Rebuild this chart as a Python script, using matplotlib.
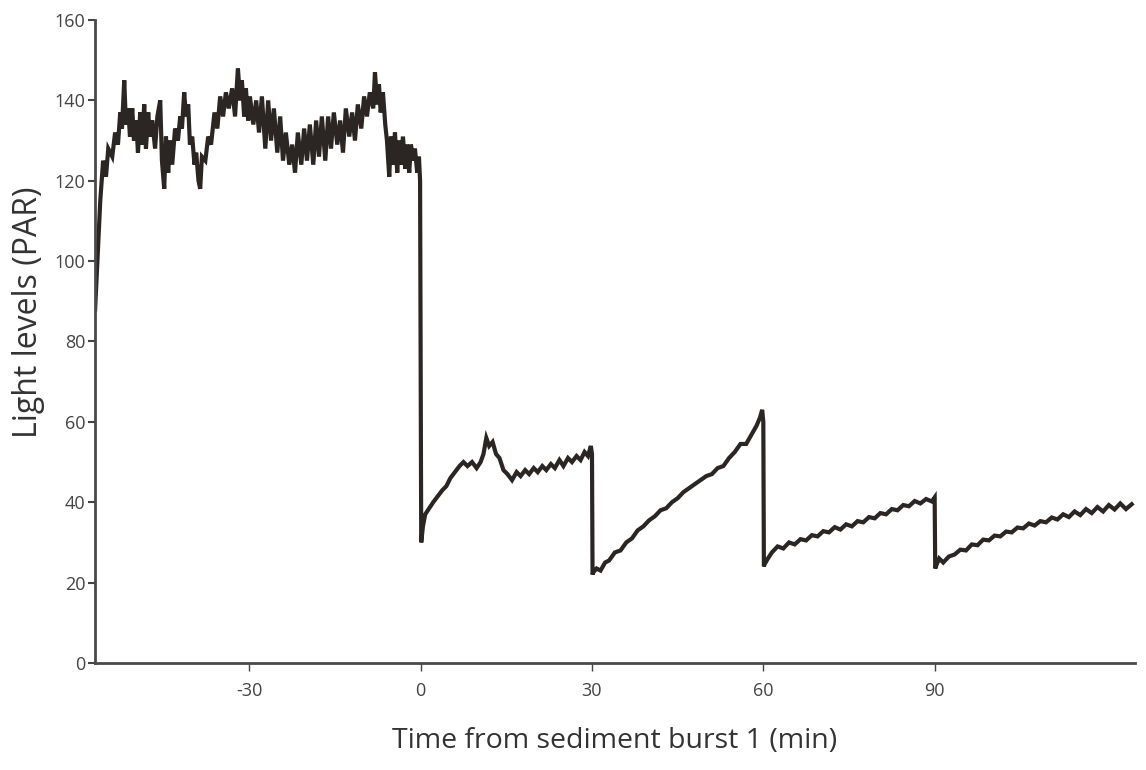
import matplotlib
matplotlib.use("Agg")
import matplotlib.pyplot as plt

# light trace: time (min from burst 1), PAR
# pre-burst section (noisy, high light)
t_pre = [-57.0, -56.6, -56.1, -55.6, -55.1, -54.7, -54.0, -53.5, -53.0, -52.6,
         -52.3, -51.9, -51.6, -51.2, -50.9, -50.5, -50.2, -49.8, -49.5, -49.1,
         -48.8, -48.4, -48.1, -47.7, -47.4, -47.0, -46.5, -46.1, -45.6, -45.3,
         -44.9, -44.6, -44.2, -43.9, -43.5, -43.0, -42.5, -42.1, -41.8, -41.4,
         -41.1, -40.7, -40.4, -40.0, -39.6, -39.3, -38.9, -38.6, -38.3, -37.7,
         -37.2, -36.7, -36.1, -35.6, -35.1, -34.6, -34.1, -33.6, -33.0, -32.5,
         -32.0, -31.6, -31.3, -30.9, -30.6, -30.2, -29.9, -29.3, -28.8, -28.3,
         -27.8, -27.2, -26.7, -26.2, -25.7, -25.1, -24.6, -24.1, -23.6, -23.0,
         -22.5, -22.0, -21.5, -20.9, -20.4, -19.9, -19.4, -18.8, -18.3, -17.8,
         -17.3, -16.7, -16.2, -15.7, -15.2, -14.6, -14.1, -13.6, -13.1, -12.5,
         -12.0, -11.5, -11.0, -10.4, -9.9, -9.4, -8.9, -8.3, -8.0, -7.6,
         -7.3, -7.0, -6.6, -6.2, -5.9, -5.5, -5.2, -4.8, -4.5, -4.1,
         -3.8, -3.5, -3.1, -2.7, -2.4, -2.0, -1.7, -1.3, -1.0, -0.6,
         -0.3, -0.1]
par_pre = [88, 100, 115, 125, 121, 128, 126, 132, 129, 137,
           133, 145, 134, 138, 131, 138, 130, 135, 127, 137,
           129, 139, 128, 137, 131, 135, 128, 136, 140, 125,
           118, 131, 122, 130, 124, 133, 130, 136, 133, 142,
           136, 139, 129, 131, 124, 127, 120, 118, 126, 125,
           131, 129, 137, 133, 141, 136, 142, 138, 143, 136,
           148, 140, 145, 136, 143, 135, 141, 134, 140, 132,
           141, 128, 140, 130, 138, 127, 136, 125, 132, 124,
           129, 122, 132, 124, 133, 125, 134, 124, 135, 126,
           136, 125, 136, 128, 137, 129, 135, 127, 138, 131,
           137, 130, 139, 133, 141, 136, 142, 138, 147, 139,
           144, 137, 142, 134, 130, 121, 131, 124, 132, 122,
           130, 124, 131, 123, 129, 122, 129, 125, 128, 122,
           126, 120]

# after burst 1
t_b1 = [0.1, 0.4, 0.8, 1.5, 2.2, 3.0, 3.8, 4.5, 5.2, 6.0, 6.8, 7.5, 8.2, 9.0,
        9.8, 10.5, 11.0, 11.5, 12.0, 12.6, 13.2, 13.8, 14.5, 15.2, 16.0, 16.8,
        17.5, 18.3, 19.0, 19.8, 20.5, 21.3, 22.0, 22.8, 23.5, 24.3, 25.0, 25.8,
        26.5, 27.3, 28.0, 28.7, 29.3, 29.8, 30.0]
par_b1 = [30, 34, 37, 38.5, 40, 41.5, 43, 44, 46, 47.5, 49, 50, 49, 50,
          48.5, 50, 52, 56, 54, 55, 52, 51, 48, 47, 45.5, 47.5, 46.5, 48,
          47, 48.5, 47.5, 49, 48, 49.5, 48.5, 50.5, 49, 51, 50, 51.5, 50.5, 52.5,
          51.5, 54, 52]

# after burst 2
t_b2 = [30.1, 30.2, 30.8, 31.5, 32.3, 33.0, 34.0, 35.0, 36.0, 37.0, 38.0, 39.0,
        40.0, 41.0, 42.0, 43.0, 44.0, 45.0, 46.0, 47.0, 48.0, 49.0, 50.0, 51.0,
        52.0, 53.0, 54.0, 55.0, 56.0, 57.0, 58.0, 58.8, 59.4, 59.8, 60.0]
par_b2 = [22, 22.5, 23.5, 23, 25, 25.5, 27.5, 28, 30, 31, 33, 34,
          35.5, 36.5, 38, 38.5, 40, 41, 42.5, 43.5, 44.5, 45.5, 46.5, 47,
          48.5, 49, 51, 52.5, 54.5, 54.5, 57, 59, 61, 63, 60]

# after burst 3
t_b3 = [60.1, 60.2, 60.8, 61.5, 62.5, 63.5, 64.5, 65.5, 66.5, 67.5, 68.5, 69.5,
        70.5, 71.5, 72.5, 73.5, 74.5, 75.5, 76.5, 77.5, 78.5, 79.5, 80.5, 81.5,
        82.5, 83.5, 84.5, 85.5, 86.5, 87.5, 88.5, 89.5, 90.0]
par_b3 = [24, 24.5, 26, 27.5, 29, 28.5, 30, 29.5, 30.8, 30.5, 31.8, 31.5,
          32.8, 32.5, 33.8, 33.2, 34.5, 34, 35.3, 35, 36.3, 36, 37.3, 37,
          38.3, 38, 39.3, 39, 40.3, 39.7, 40.8, 40.2, 41.2]

# after burst 4
t_b4 = [90.1, 90.2, 90.8, 91.5, 92.5, 93.5, 94.5, 95.5, 96.5, 97.5, 98.5, 99.5,
        100.5, 101.5, 102.5, 103.5, 104.5, 105.5, 106.5, 107.5, 108.5, 109.5,
        110.5, 111.5, 112.5, 113.5, 114.5, 115.5, 116.5, 117.5, 118.5, 119.5,
        120.5, 121.5, 122.5, 123.5, 124.5]
par_b4 = [23.5, 24, 26, 25, 26.5, 27, 28.2, 28, 29.5, 29.3, 30.7, 30.5,
          31.7, 31.5, 32.7, 32.5, 33.7, 33.5, 34.7, 34.2, 35.3, 35, 36.2, 35.7,
          37, 36.3, 37.7, 36.8, 38.3, 37.3, 38.8, 37.7, 39.3, 38.2, 39.7, 38.3, 39.5]

xticks = [-30, 0, 30, 60, 90]
yticks = [0, 20, 40, 60, 80, 100, 120, 140, 160]

plt.rcParams["font.family"] = ["Open Sans", "DejaVu Sans"]
plt.rcParams["axes.unicode_minus"] = False

fig = plt.figure(figsize=(11.46, 7.70), dpi=100)
ax = fig.add_axes([0.083, 0.139, 0.907, 0.835])

t_all = t_pre + t_b1 + t_b2 + t_b3 + t_b4
par_all = par_pre + par_b1 + par_b2 + par_b3 + par_b4
ax.plot(t_all, par_all, color="#2b2623", lw=3.0, solid_joinstyle="miter")

ax.set_xlim(-57, 125)
ax.set_ylim(0, 160)
ax.set_xticks(xticks)
ax.set_yticks(yticks)
ax.tick_params(axis="both", labelsize=13, colors="#444444", direction="out")
ax.tick_params(axis="y", length=5, width=1.5, pad=2)
ax.tick_params(axis="x", length=6, width=1, pad=8)

for side in ("top", "right"):
    ax.spines[side].set_visible(False)
for side in ("left", "bottom"):
    ax.spines[side].set_color("#4a4a4a")
    ax.spines[side].set_linewidth(2)

ax.set_xlabel("Time from sediment burst 1 (min)", fontsize=20.5, color="#333333")
ax.set_ylabel("Light levels (PAR)", fontsize=23, color="#333333")
ax.xaxis.set_label_coords(0.5, -0.099)
ax.yaxis.set_label_coords(-0.048, 0.546)

fig.savefig("out.png", dpi=100)
